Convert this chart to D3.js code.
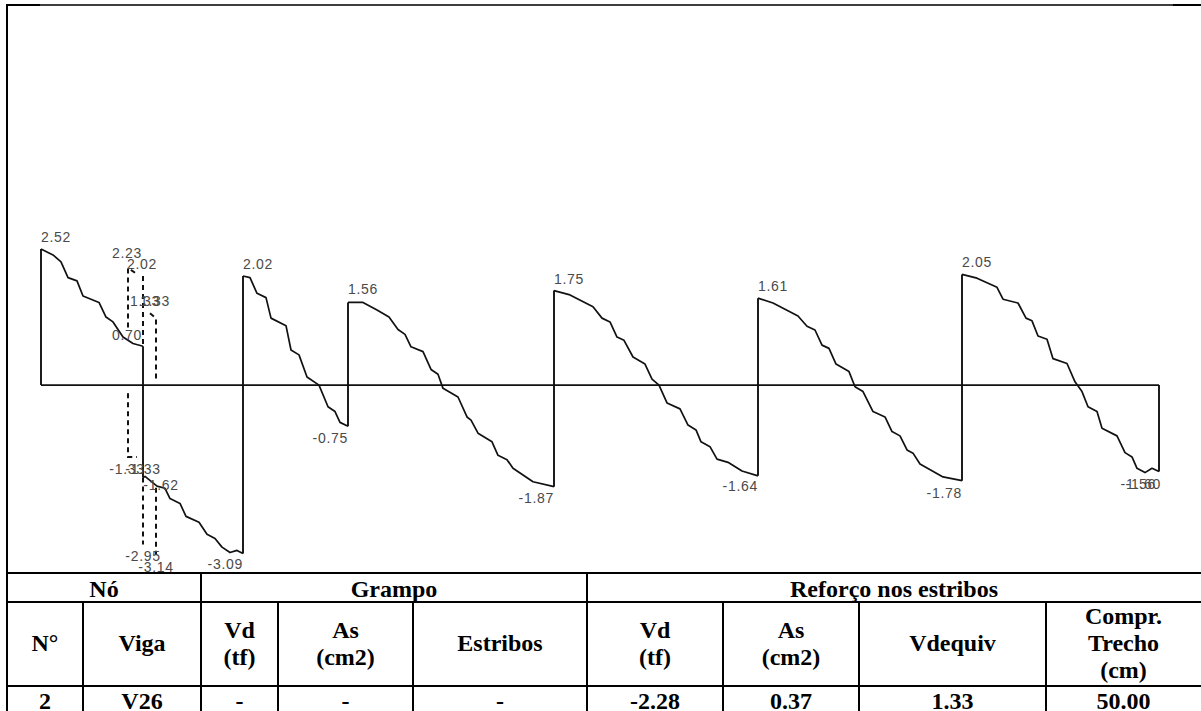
<!DOCTYPE html>
<html>
<head>
<meta charset="utf-8">
<script src="https://d3js.org/d3.v7.min.js"></script>
<style>
html, body { margin: 0; padding: 0; background: #fff; }
svg { display: block; }
.val { font-family: "Liberation Sans", Arial, sans-serif; font-size: 14px; letter-spacing: 0.7px; fill: #4a4a4a; }
.cell { font-family: "Liberation Serif", "Times New Roman", serif; font-weight: bold; font-size: 24px; fill: #000; text-anchor: middle; }
</style>
</head>
<body>
<svg id="chart" width="1201" height="711"></svg>
<script>
// stations along the beam (picture units from first support) and shear in tf
var span1 = [[0,2.52],[12,2.41],[20,2.28],[27,1.99],[36,1.93],[42,1.65],[58,1.53],[65,1.26],[72,1.17],[82,0.89],[92,0.77],[102,0.72]];
var span2 = [[102,-1.71],[104,-1.69],[116,-1.87],[124,-1.91],[129,-2.10],[139,-2.19],[145,-2.43],[158,-2.54],[166,-2.76],[174,-2.84],[181,-3.00],[189,-3.10],[196,-3.06],[202,-3.12]];
var span3 = [[202,2.02],[209,1.99],[216,1.70],[225,1.62],[230,1.24],[245,1.10],[250,0.65],[258,0.56],[266,0.15],[278,0],[287,-0.40],[294,-0.49],[299,-0.69],[307,-0.76]];
var span4 = [[307,1.53],[322,1.53],[336,1.39],[348,1.26],[357,1.03],[364,0.94],[370,0.71],[382,0.62],[390,0.29],[397,0.20],[402,-0.06],[417,-0.22],[426,-0.59],[430,-0.65],[437,-0.89],[451,-1.05],[457,-1.30],[466,-1.38],[472,-1.54],[492,-1.79],[513,-1.88]];
var span5 = [[513,1.75],[529,1.67],[552,1.45],[561,1.24],[569,1.17],[576,0.89],[583,0.83],[592,0.52],[604,0.39],[611,0.11],[618,0],[626,-0.33],[639,-0.44],[647,-0.74],[655,-0.83],[660,-1.05],[669,-1.14],[676,-1.37],[687,-1.43],[701,-1.59],[717,-1.68]];
var span6 = [[717,1.61],[732,1.52],[757,1.28],[766,1.09],[774,1.02],[781,0.74],[788,0.68],[795,0.39],[808,0.25],[814,-0.03],[822,-0.12],[832,-0.49],[844,-0.59],[851,-0.86],[859,-0.94],[866,-1.20],[872,-1.26],[879,-1.46],[902,-1.70],[921,-1.77]];
var span7 = [[921,2.05],[936,1.98],[956,1.81],[962,1.59],[977,1.52],[985,1.24],[991,1.19],[997,0.91],[1006,0.85],[1012,0.49],[1026,0.40],[1034,0.06],[1041,-0.12],[1047,-0.40],[1056,-0.49],[1061,-0.80],[1076,-0.94],[1084,-1.25],[1091,-1.33],[1096,-1.54],[1104,-1.62],[1111,-1.54],[1118,-1.60]];
var spans = [span1, span2, span3, span4, span5, span6, span7];

// dashed envelope around the first node
var dashed = [
  [[94,2.08],[87,2.17],[87,1.02]],
  [[87,-0.15],[87,-1.33],[96,-1.33]],
  [[102,2.02],[102,0.72]],
  [[102,-1.71],[102,-2.95]],
  [[109,1.33],[115,1.24],[115,0.06]],
  [[115,-1.90],[115,-3.14]]
];

var peakLabels = [[0,2.52],[202,2.02],[307,1.56],[513,1.75],[717,1.61],[921,2.05]];
var troughLabels = [[202,-3.09],[307,-0.75],[513,-1.87],[717,-1.64],[921,-1.78],[1115,-1.60,"-1.56"],[1120,-1.60]];
var nodeLabels = [[86,2.23],[101,2.02],[104,1.33],[114,1.33],[86,0.70],[86,-1.33],[102,-1.33],[120,-1.62],[102,-2.95],[115,-3.14]];

// table
var headRow = [["Nó",0,2],["Grampo",2,5],["Reforço nos estribos",5,9]];
var subHead = [["N°"],["Viga"],["Vd","(tf)"],["As","(cm2)"],["Estribos"],["Vd","(tf)"],["As","(cm2)"],["Vdequiv"],["Compr.","Trecho","(cm)"]];
var dataRow = ["2","V26","-","-","-","-2.28","0.37","1.33","50.00"];
var colEdges = [7, 83, 201, 278, 413, 587, 723, 859, 1046, 1201];
var rowEdges = [573, 602, 686];

var svg = d3.select("#chart");

var x = d3.scaleLinear().domain([0, 1118]).range([41, 1159]);
var y = d3.scaleLinear().domain([-3.09, 2.52]).range([552, 249]);

var line = d3.line().x(function(d){return x(d[0]);}).y(function(d){return y(d[1]);});

// outer frame, heavier at both ends of the top edge
svg.append("path").attr("d", "M7,711V5H1201").attr("fill","none").attr("stroke","#000").attr("stroke-width",1.3);
svg.append("path").attr("d", "M7,711V5H40M1173,5H1201").attr("fill","none").attr("stroke","#000").attr("stroke-width",2);

// base line
svg.append("line").attr("x1",x(0)).attr("x2",x(1118)).attr("y1",y(0)).attr("y2",y(0))
  .attr("stroke","#111").attr("stroke-width",1.8);

// supports and curve
spans.forEach(function(s){
  var a = s[0], b = s[s.length-1];
  svg.append("line").attr("x1",x(a[0])).attr("x2",x(a[0])).attr("y1",y(0)).attr("y2",y(a[1]))
    .attr("stroke","#111").attr("stroke-width",1.9);
  svg.append("line").attr("x1",x(b[0])).attr("x2",x(b[0])).attr("y1",y(0)).attr("y2",y(b[1]))
    .attr("stroke","#111").attr("stroke-width",1.9);
  svg.append("path").attr("d",line(s)).attr("fill","none").attr("stroke","#111").attr("stroke-width",1.7).attr("stroke-linejoin","round");
});

svg.selectAll(".dash").data(dashed).enter().append("path")
  .attr("class","dash")
  .attr("d",line)
  .attr("fill","none").attr("stroke","#111").attr("stroke-width",2).attr("stroke-dasharray","5 4");

function putLabels(list, anchor) {
  svg.selectAll(null).data(list).enter().append("text")
    .attr("class","val")
    .attr("x",function(d){return x(d[0]);})
    .attr("y",function(d){return y(d[1]) + (d[1] < 0 ? 17 : -7);})
    .attr("text-anchor",anchor)
    .text(function(d){return d[2] || d[1].toFixed(2);});
}
putLabels(peakLabels, "start");
putLabels(troughLabels, "end");
putLabels(nodeLabels, "middle");

// table cells
var tbl = svg.append("g");
tbl.append("rect").attr("x",7).attr("y",rowEdges[0]).attr("width",1194).attr("height",138).attr("fill","#fff");
rowEdges.forEach(function(r){
  tbl.append("line").attr("x1",6).attr("x2",1201).attr("y1",r).attr("y2",r).attr("stroke","#000").attr("stroke-width",2);
});
colEdges.slice(0,9).forEach(function(c){
  var top = (c==201 || c==587 || c==7) ? rowEdges[0] : rowEdges[1];
  tbl.append("line").attr("x1",c).attr("x2",c).attr("y1",top).attr("y2",711).attr("stroke","#000").attr("stroke-width",2);
});
function mid(i,j){ return (colEdges[i]+colEdges[j])/2; }
headRow.forEach(function(h){
  tbl.append("text").attr("class","cell").attr("x",mid(h[1],h[2])).attr("y",597).text(h[0]);
});
subHead.forEach(function(lines,i){
  var start = 651 - (lines.length-1)*13.5;
  lines.forEach(function(t,k){
    tbl.append("text").attr("class","cell").attr("x",mid(i,i+1)).attr("y",start + k*27).text(t);
  });
});
dataRow.forEach(function(t,i){
  tbl.append("text").attr("class","cell").attr("x",mid(i,i+1)).attr("y",709).text(t);
});
</script>
</body>
</html>
